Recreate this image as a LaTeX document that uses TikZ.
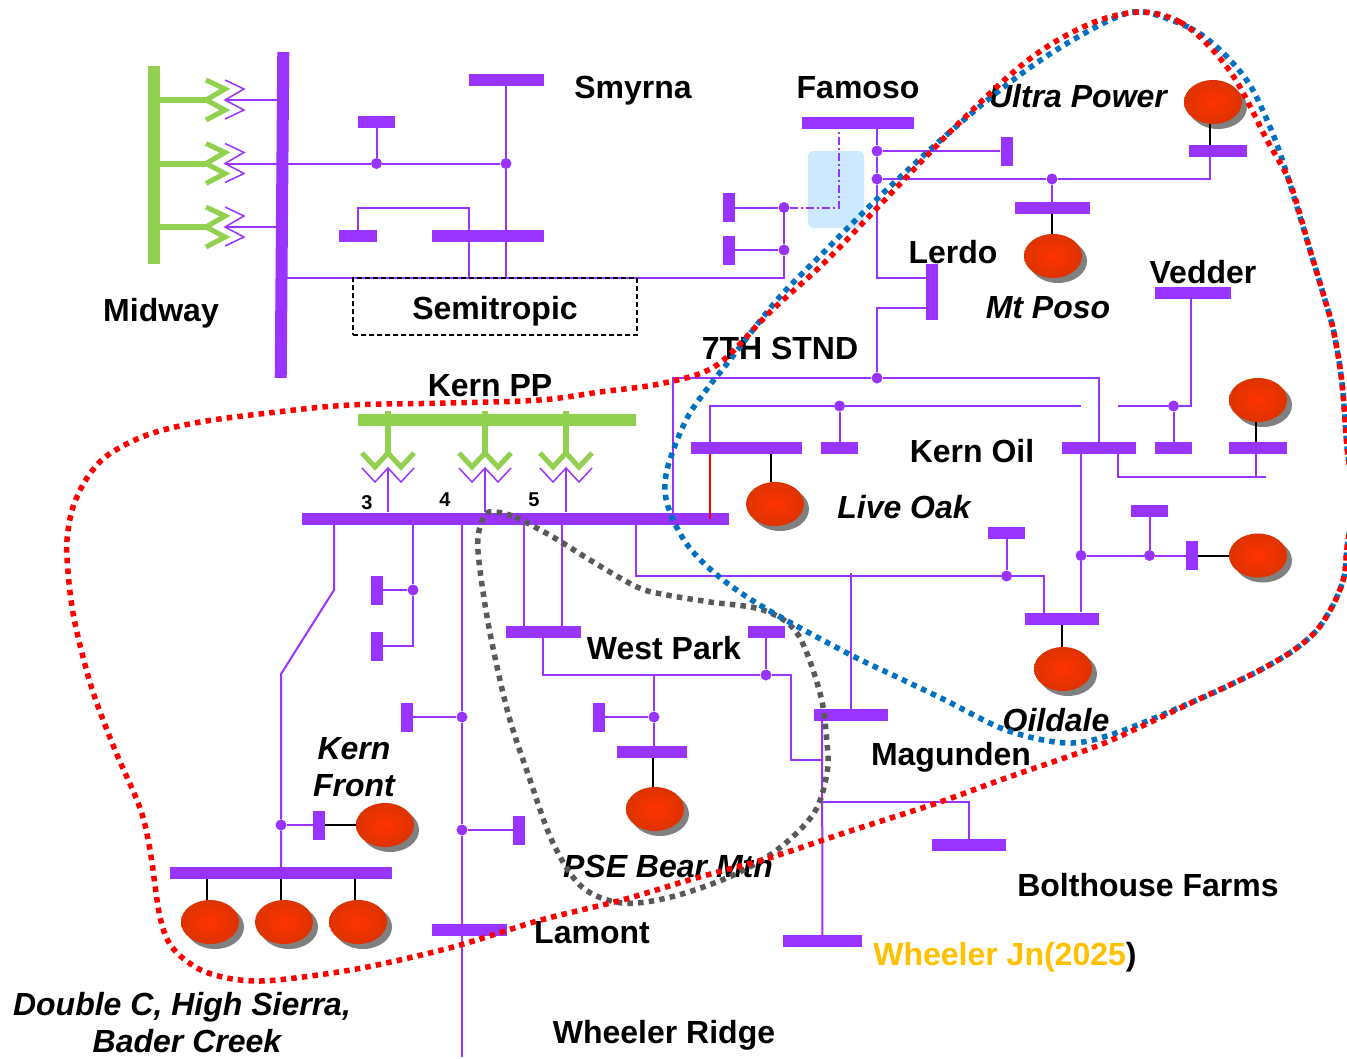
\documentclass[tikz,border=0pt]{standalone}
\usepackage{fontspec}
\setmainfont{Liberation Sans}
\usetikzlibrary{shapes.geometric}
\usetikzlibrary{shadows}
\definecolor{busviolet}{HTML}{9933FF}
\definecolor{busgreen}{HTML}{92D050}
\definecolor{zoneblue}{HTML}{0070C0}
\definecolor{zonegray}{HTML}{595959}
\definecolor{futuregold}{HTML}{FFC000}
\definecolor{gencore}{HTML}{FF3300}
\definecolor{genrim}{HTML}{DD3300}
\definecolor{relief}{HTML}{CCE9FF}
\tikzset{
    hbar/.style={shape=rectangle,fill=busviolet,inner sep=0pt,minimum height=12pt},
    vbar/.style={shape=rectangle,fill=busviolet,inner sep=0pt,minimum width=12pt,minimum height=29pt},
    gbar/.style={shape=rectangle,fill=busgreen,inner sep=0pt},
    junction/.style={shape=circle,fill=busviolet,inner sep=0pt,minimum size=11pt},
    gen/.style={shape=ellipse,inner sep=0pt,minimum width=58pt,minimum height=44pt,inner color=gencore,outer color=genrim,
        general shadow={shadow xshift=5pt,shadow yshift=-5pt,fill=black!50,opacity=1}},
    wire/.style={color=busviolet,line width=2pt},
    stub/.style={color=black,line width=2pt},
    greenwire/.style={color=busgreen,line width=6pt},
    greenzig/.style={color=busgreen,line width=5pt},
    zone/.style={line width=5.5pt,dash pattern=on 5.5pt off 5.2pt},
    lbl/.style={font=\fontsize{32}{38}\selectfont\bfseries,text=black,inner sep=0pt},
    ilbl/.style={lbl,font=\fontsize{32}{38}\selectfont\bfseries\itshape},
}
\begin{document}
\begin{tikzpicture}[x=1pt,y=-1pt]
    \useasboundingbox (0,0) rectangle (1347,1058);
    \node (relbox) at (836,189.5) [shape=rectangle,fill=relief,rounded corners=5pt,minimum width=56pt,minimum height=77pt] {};
    % buses
    \node (midway) at (153.5,165) [gbar,minimum width=12pt,minimum height=198pt] {};
    \node (kernpp) at (497,420) [gbar,minimum width=278pt,minimum height=12pt] {};
    \node (midbar) at (282,215) [hbar,minimum width=12pt,minimum height=326pt,rotate=-0.45] {};
    \foreach \n/\x/\y/\w in {smyrna/506/80/75,semia/488/236/112,semib/358/236/38,semic/376.5/122/37,
        famoso/858/123/112,ultra/1218/151/58,poso/1052/208/75,vedder/1193/293/76,
        liveoak/746.5/448/111,liveb/839.5/448/37,kernoil/1099/448/74,vedb/1173.5/448/37,vedc/1258/448/58,
        kern/515.5/519/427,oild/1062/619/74,oilb/1149.5/511/37,oilc/1006.5/533/37,
        magun/851/715/74,westp/543.5/632/75,westb/766/632/37,pse/652/752/70,
        dblc/281/873/222,lamont/469/930/75,bolt/969/845/74,wheeler/822.5/941/79}
    \node (\n) at (\x,\y) [hbar,minimum width=\w pt] {};
    \foreach \n/\x/\y in {famr/1006.5/151,tsf/729/207.5,tsg/729/250,oilv/1192/555.5,
        kfv/319/825,kna/377/590,knb/377/646,lma/407/717,lmb/519/830,psev/599/717}
    \node (\n) at (\x,\y) [vbar] {};
    \node (lerdo) at (932,292) [vbar,minimum height=56pt] {};
    % junction dots
    \foreach \n/\x/\y in {jsemi/376.5/163.5,jsmy/506/163.5,jtsf/784/207.5,jtsg/784/250,jfa/877/151,jfb/877/179,
        jposo/1052/179,jstnd/877/378,jliv/839.5/406,jved/1173.5/406,joila/1081/555.5,joilb/1149.5/555.5,joilc/1006.5/576,
        jkna/413/590,jkf/281/825,jlma/462/717,jlmb/462/830,jwest/766/675,jpse/654/717}
    \node (\n) at (\x,\y) [junction] {};
    % generators
    \foreach \n/\x/\y in {ga/210/922,gb/284/922,gc/358/922,gd/385/825,ge/775/504,gf/1258/400,gg/1258/555.5,
        gh/1063/669,gi/655/809,gj/1053/256,gk/1213/102}
    \node (\n) at (\x,\y) [gen] {};
    % corners and tap points
    \foreach \n/\x/\y in {tra/225/100,trb/225/163.5,trc/225/227,semiend/784/278,semimid/506/278,semicor/469/208,semilow/469/278,
        famdash/839/129,famtap/877/129,famlow/877/278,ultcor/1210/179,lerl/926/308,lerc/877/308,
        stnl/673/378,stnb/673/519,stnr/1099/378,libl/710/406,liba/710/442,libr/1081/406,vedl/1118/406,vedr/1191/406,
        redt/710/454,redb/710/519,oilt/1081/454,oilm/1081/612,ovl/1118/454,ovc/1118/477,ovr/1266/477,ovt/1256/454,
        oilcl/636/525,oilcb/636/576,oilcr/1044/576,oilcd/1044/613,magt/851/573,
        kfa/334/525,kfb/334/590,kfc/281/674,kfd/281/867,kna0/413/525,knb0/413/646,lm0/462/525,lm1/462/1057,
        wpa/524/525,wpb/524/626,wpc/562/525,wpd/562/626,wpe/543/638,wpf/543/675,wpg/791/675,wph/791/760,wpi/822/760,
        pst/654/675,psb/654/746,mgd/822/721,mgc/822/802,mge/969/802}
    \coordinate (\n) at (\x,\y);
    % midway side
    \foreach \t in {tra,trb,trc}{
        \draw[greenwire] (midway.center |- \t) -- ([xshift=-19pt]\t);
        \draw[greenzig] ([xshift=-19pt,yshift=20pt]\t) -- ++(19,9) -- ++(-19,11) -- ++(19,10) -- ++(-19,10);
        \draw[wire,line width=1.5pt] ([yshift=20pt]\t) -- ++(19,9) -- ++(-19,11) -- ++(19,10) -- ++(-19,9);
    }
    \draw[wire] (tra) -- (midbar |- tra);
    \draw[wire] (trb) -- (jsemi) -- (jsmy);
    \draw[wire] (trc) -- (midbar |- trc);
    \draw[wire] (semic) -- (jsemi);
    \draw[wire] (smyrna) -- (jsmy) -- (semimid);
    \draw[wire] (semib) |- (semicor) -- (semilow);
    \draw[wire] (midbar |- semiend) -- (semiend) -- (jtsg);
    \draw[wire] (jtsg) -- (jtsf);
    \draw[wire] (tsf) -- (jtsf);
    \draw[wire] (tsg) -- (jtsg);
    \draw[wire,dash pattern=on 8pt off 3pt on 2pt off 3pt] (jtsf) -| (famdash);
    % famoso to lerdo
    \draw[wire] (famtap) -- (jfa) -- (jfb) -- (famlow) -- (famlow -| lerdo);
    \draw[wire] (jfa) -- (famr);
    \draw[wire] (jfb) -- (jposo) -- (ultcor) -- (ultcor |- ultra.south);
    \draw[wire] (jposo) -- (poso);
    \draw[stub] ([xshift=-1pt]gj.north) -- ([xshift=-1pt]gj.north |- poso.south);
    \draw[stub] ([xshift=-3pt]gk.south) -- ([xshift=-3pt]gk.south |- ultra.north);
    \draw[wire] (lerl) -- (lerc) -- (jstnd);
    % 7th stnd and kern oil
    \draw[wire] (stnb) -- (stnl) -- (jstnd) -- (stnr) -- (kernoil);
    \draw[wire] (liba) -- (libl) -- (jliv) -- (libr);
    \draw[wire] (jliv) -- (liveb);
    \draw[wire] (vedl) -- (jved) -- (vedr) -- (vedr |- vedder.south);
    \draw[wire] (jved) -- (vedb);
    \draw[color=red,line width=1.5pt] (redt) -- (redb);
    \draw[stub] ([xshift=-4pt]ge.north) -- ([xshift=-4pt]ge.north |- liveoak.south);
    \draw[stub] ([xshift=-2pt]gf.south) -- ([xshift=-2pt]gf.south |- vedc.north);
    \draw[wire] (ovl) -- (ovc) -- (ovr);
    \draw[wire] (ovt) -- (ovt |- ovc);
    % oildale
    \draw[wire] (oilt) -- (joila) -- (oilm);
    \draw[wire] (joila) -- (joilb) -- (oilv);
    \draw[wire] (oilb) -- (joilb);
    \draw[stub] (oilv) -- (gg);
    \draw[wire] (oilcl) -- (oilcb) -- (joilc) -- (oilcr) -- (oilcd);
    \draw[wire] (oilc) -- (joilc);
    \draw[stub] ([xshift=-1pt]gh.north) -- ([xshift=-1pt]gh.north |- oild.south);
    \draw[wire] (magt) -- (magun);
    % kern pp
    \foreach \t/\x in {a/388,b/485,c/566}{
        \coordinate (pp\t) at (\x,453);
        \draw[greenwire] (pp\t) -- ([yshift=3pt]pp\t |- kernpp.north);
        \draw[greenzig] ([xshift=-26pt]pp\t) -- ++(13,14) -- ++(13,-14) -- ++(13,14) -- ++(13,-14);
        \draw[wire,line width=1.5pt] ([xshift=-26pt,yshift=-15pt]pp\t) -- ++(13,14) -- ++(13,-14) -- ++(13,14) -- ++(13,-14);
        \draw[wire] ([yshift=-15pt]pp\t) -- ([yshift=1pt]pp\t |- kern.north);
    }
    % below kern
    \draw[wire] (kfa) -- (kfb) -- (kfc) -- (jkf) -- (kfd);
    \draw[wire] (jkf) -- (kfv);
    \draw[stub] (kfv) -- (gd);
    \draw[wire] (kna0) -- (jkna) -- (knb0) -- (knb);
    \draw[wire] (jkna) -- (kna);
    \draw[wire] (lm0) -- (jlma) -- (jlmb) -- (lm1);
    \draw[wire] (jlma) -- (lma);
    \draw[wire] (jlmb) -- (lmb);
    \foreach \g in {ga,gb,gc}
    \draw[stub] ([xshift=-3pt]\g.north) -- ([xshift=-3pt]\g.north |- dblc.south);
    % west park
    \draw[wire] (wpa) -- (wpb);
    \draw[wire] (wpc) -- (wpd);
    \draw[wire] (wpe) -- (wpf) -- (jwest) -- (wpg) -- (wph) -- (wpi);
    \draw[wire] (westb) -- (jwest);
    \draw[wire] (pst) -- (jpse) -- (psb);
    \draw[wire] (jpse) -- (psev);
    \draw[stub] ([xshift=-2pt]gi.north) -- ([xshift=-2pt]gi.north |- pse.south);
    \draw[wire] (mgd) -- (wheeler);
    \draw[wire] (mgc) -- (mge) -- (bolt);
    % labels
    \node (semibox) at (495,306.5) [shape=rectangle,draw,line width=1.2pt,dash pattern=on 5pt off 3pt,minimum width=284pt,minimum height=57pt] {};
    \foreach \n/\x/\y/\t in {lsmy/633/91/Smyrna,lfam/858/88/Famoso,llerdo/953/252/Lerdo,lved/1203/272/Vedder,lmid/161/313/Midway,
        lstnd/780/348/7TH STND,lkpp/490/386/Kern PP,loil/972/451/Kern Oil,lwest/664/648/West Park,lmag/951/757/Magunden,
        lbolt/1148/885/Bolthouse Farms,llam/592/933/Lamont,lwr/664/1035/Wheeler Ridge,lsemi/495/311/Semitropic}
    \node (\n) at (\x,\y) [lbl] {\t};
    \foreach \n/\x/\y/\t in {lult/1078/96/Ultra Power,lposo/1048/308/Mt Poso,llive/904/507/Live Oak,lold/1056/720/Oildale,
        lkfa/354/749/Kern,lkfb/354/786/Front,lpse/668/866/PSE Bear Mtn,lbad/187/1041/Bader Creek}
    \node (\n) at (\x,\y) [ilbl] {\t};
    \node (ldbl) at (182,1007) [ilbl] {Double C, High Sierra,};
    \node (lwj) at (1005,957) [lbl] {\textcolor{futuregold}{Wheeler Jn(2025})};
    \foreach \n/\x/\y/\t in {lthree/367/503/3,lfour/445/500/4,lfive/534/500/5}
    \node (\n) at (\x,\y) [lbl,font=\fontsize{20}{24}\selectfont\bfseries] {\t};
    % zones
    \draw[zone,color=zonegray] plot[smooth cycle,tension=.55] coordinates {(495,512) (515,517) (553,537) (590,560) (637,587) (667,595) (710,602) (763,610) (797,633) (820,693) (827,743) (827,773) (814,813) (777,850) (729,877) (671,897) (622,903) (582,887) (553,843) (529,777) (508,713) (490,633) (480,570) (478,537) (485,515)};
    \draw[zone,color=zoneblue] plot[smooth cycle,tension=.55] coordinates {(1143,12) (1190,28) (1220,50) (1248,82) (1267,120) (1283,162) (1310,250) (1325,300) (1334,333) (1342,383) (1347,447) (1353,500) (1347,548) (1344,577) (1334,603) (1317,630) (1294,650) (1264,668) (1234,683) (1197,700) (1116,733) (1067,743) (1006,730) (945,700) (897,677) (847,653) (763,607) (717,575) (686,543) (667,503) (667,470) (686,420) (710,385) (726,365) (777,300) (823,253) (878,198) (943,138) (1000,90) (1053,52) (1110,20)};
    \draw[zone,color=red] plot[smooth cycle,tension=.55] coordinates {(1143,12) (1180,22) (1210,47) (1237,82) (1267,140) (1290,183) (1310,250) (1325,300) (1334,333) (1342,383) (1347,447) (1353,500) (1347,548) (1344,577) (1334,603) (1317,630) (1294,650) (1264,668) (1234,683) (1197,700) (1140,727) (1092,748) (1006,778) (937,803) (847,832) (769,858) (696,878) (622,900) (541,920) (453,947) (367,967) (303,977) (260,981) (227,978) (197,968) (172,947) (160,917) (150,850) (140,808) (115,750) (95,698) (83,657) (73,613) (68,572) (67,540) (73,507) (87,478) (108,455) (147,435) (200,422) (277,412) (350,405) (450,403) (540,400) (600,392) (664,383) (717,365) (770,312) (825,262) (878,207) (947,135) (1010,75) (1053,43) (1100,20)};
\end{tikzpicture}
\end{document}
